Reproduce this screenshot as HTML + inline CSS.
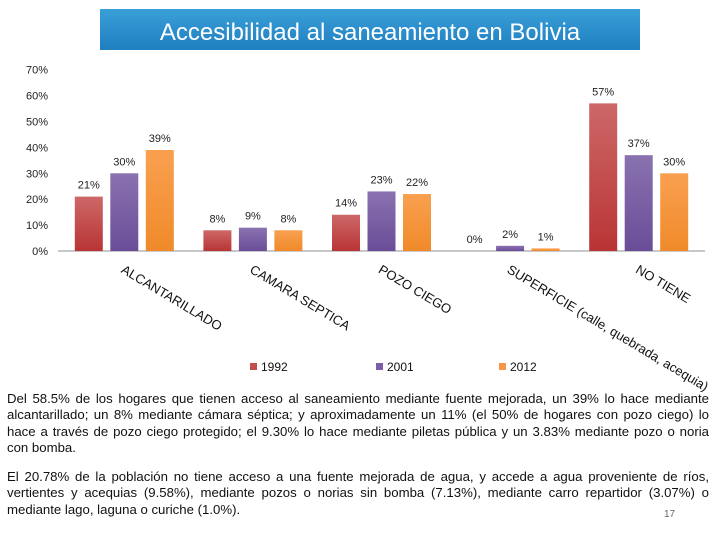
<!DOCTYPE html>
<html><head><meta charset="utf-8"><style>
body{margin:0;width:720px;height:540px;background:#fff;font-family:"Liberation Sans",sans-serif;position:relative;overflow:hidden}
#title{position:absolute;left:100px;top:9px;width:540px;height:41px;background:linear-gradient(#3a9fd8,#1f7fc0);color:#fff;font-size:24px;text-align:center;line-height:48px}
.p{position:absolute;left:7px;width:702px;font-size:13.2px;line-height:16.4px;text-align:justify;color:#111}
</style></head><body>
<div id="title">Accesibilidad al saneamiento en Bolivia</div>
<svg id="chart" width="720" height="392" style="position:absolute;left:0;top:0">
<defs>
<linearGradient id="g0" x1="0" y1="0" x2="0" y2="1"><stop offset="0" stop-color="#cd6868"/><stop offset="1" stop-color="#b93434"/></linearGradient>
<linearGradient id="g1" x1="0" y1="0" x2="0" y2="1"><stop offset="0" stop-color="#8a72b0"/><stop offset="1" stop-color="#6a4d98"/></linearGradient>
<linearGradient id="g2" x1="0" y1="0" x2="0" y2="1"><stop offset="0" stop-color="#f9a050"/><stop offset="1" stop-color="#f08a2a"/></linearGradient>
</defs>
</svg>
<div class="p" style="top:391px">Del 58.5% de los hogares que tienen acceso al saneamiento mediante fuente mejorada, un 39% lo hace mediante alcantarillado; un 8% mediante cámara séptica; y aproximadamente un 11% (el 50% de hogares con pozo ciego) lo hace a través de pozo ciego protegido; el 9.30% lo hace mediante piletas pública y un 3.83% mediante pozo o noria con bomba.</div>
<div class="p" style="top:469px">El 20.78% de la población no tiene acceso a una fuente mejorada de agua, y accede a agua proveniente de ríos, vertientes y acequias (9.58%), mediante pozos o norias sin bomba (7.13%), mediante carro repartidor (3.07%) o mediante lago, laguna o curiche (1.0%).</div>
<div style="position:absolute;left:664px;top:509px;font-size:10px;color:#666">17</div>
<script>
const categories=["ALCANTARILLADO","CAMARA SEPTICA","POZO CIEGO","SUPERFICIE (calle, quebrada, acequia)","NO TIENE"];
const series=["1992","2001","2012"];
const v1992=[21,8,14,0,57];
const v2001=[30,9,23,2,37];
const v2012=[39,8,22,1,30];
const ticks=[0,10,20,30,40,50,60,70];
const NS="http://www.w3.org/2000/svg";
const svg=document.getElementById('chart');
const y0=251,ppu=2.59,x0=60,cw=128.6,bw=28,gap=7.5;
const y=v=>y0-v*ppu;
function mk(t,a,txt){const e=document.createElementNS(NS,t);for(const k in a)e.setAttribute(k,a[k]);if(txt!=null)e.textContent=txt;svg.appendChild(e);return e;}
ticks.forEach(t=>{
 const e=mk('text',{x:48,y:y(t)+4,'text-anchor':'end','font-size':'11','fill':'#222'},t+'%');
 
 
});
const ax=mk('line',{x1:58,y1:y0,x2:705,y2:y0,stroke:'#c8c8c8','stroke-width':2});


const all=[v1992,v2001,v2012];
categories.forEach((c,i)=>{
 const cx=x0+cw*(i+0.5);
 all.forEach((arr,s)=>{
  const bx=cx+(s-1)*(bw+gap)-bw/2;
  const r=mk('rect',{x:bx,y:y(arr[i]),width:bw,height:arr[i]*ppu,fill:'url(#g'+s+')'});
  
  
  const l=mk('text',{x:bx+bw/2,y:y(arr[i])-8,'text-anchor':'middle','font-size':'11','fill':'#222'},arr[i]+'%');
  
  
 });
 const lx=cx-4;
 const t=mk('text',{x:lx,y:272,'font-size':'13','fill':'#111','transform':'rotate(31 '+lx+' 272)'},c);
 
 
});
const lgx=[250,376,499],cols=['#c0504d','#7b5ea7','#f79646'];
series.forEach((s,i)=>{
 const r=mk('rect',{x:lgx[i],y:363,width:7,height:7,fill:cols[i]});
 
 
 const t=mk('text',{x:lgx[i]+11,y:371,'font-size':'12','fill':'#111'},s);
 
 
});
</script>
</body></html>
